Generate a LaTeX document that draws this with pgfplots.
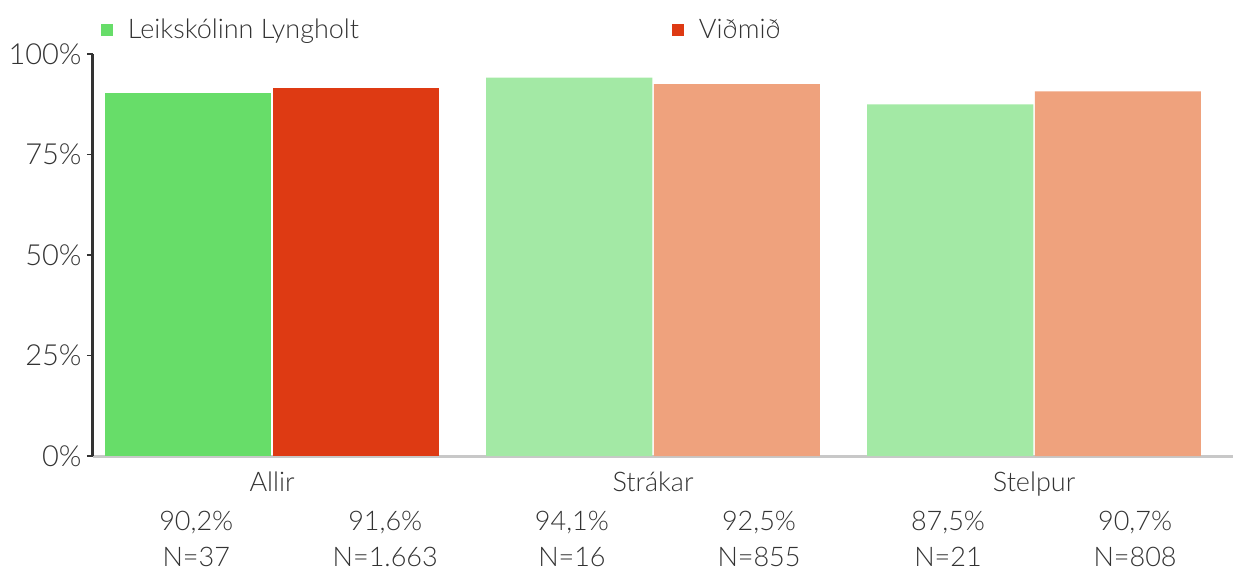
\documentclass[border=0pt]{standalone}
\usepackage{pgfplots}
\pgfplotsset{compat=1.18}
\usepackage{fontspec}
\setmainfont{Lato Light}
\definecolor{dkgreen}{HTML}{67DD69}
\definecolor{dkred}{HTML}{DE3A13}
\definecolor{ltgreen}{HTML}{A3E9A5}
\definecolor{salmon}{HTML}{EFA27D}
\definecolor{txt}{HTML}{333333}
\definecolor{ydark}{HTML}{333333}
\definecolor{xgrey}{HTML}{C8C8C8}
\newcommand{\myfont}{\fontsize{13.5}{16}\selectfont}
\newcommand{\yfont}{\fontsize{14.5}{17}\selectfont}
\begin{document}
\begin{tikzpicture}[font=\myfont]
\begin{axis}[
  at={(0,0)}, anchor=south west,
  scale only axis, width=570pt, height=201pt,
  xmin=-0.47, xmax=2.522, ymin=0, ymax=100,
  axis x line*=bottom, axis y line*=left,
  x axis line style={draw=xgrey, line width=1.5pt, -},
  y axis line style={draw=ydark, line width=1.5pt, -},
  xtick={0,1,2}, xticklabels={Allir, Strákar, Stelpur},
  xtick style={draw=none},
  xticklabel style={anchor=base, yshift=-14.5pt, inner sep=0pt, font=\myfont},
  ytick={0,25,50,75,100}, yticklabels={0\%,25\%,50\%,75\%,100\%},
  ytick style={draw=ydark, line width=0.8pt},
  tick align=outside, major tick length=3pt,
  yticklabel style={inner sep=0pt, xshift=-2.5pt, font=\yfont},
  tick label style={text=txt},
  clip=false,
  legend columns=2,
  legend cell align=left,
  legend style={at={(axis description cs:0,1)}, anchor=west, xshift=4pt, yshift=12pt,
    draw=none, fill=none, inner sep=0pt, outer sep=0pt, font=\myfont,
    nodes={inner sep=0pt, text=txt},
    /tikz/every odd column/.append style={column sep=7.5pt},
    /tikz/every even column/.append style={column sep=156pt}},
  legend image code/.code={\fill[#1] (0pt,-3pt) rectangle (6pt,3pt);},
]
\addplot[ybar, bar shift=0pt, bar width=0.436, fill=dkgreen, draw=none] coordinates {(-0.22,90.2)};
\addlegendentry{\makebox[116pt][l]{Leikskólinn Lyngholt}}
\addplot[ybar, bar shift=0pt, bar width=0.436, fill=dkred, draw=none] coordinates {(0.22,91.6)};
\addlegendentry{Viðmið}
\addplot[ybar, bar shift=0pt, bar width=0.436, fill=ltgreen, draw=none, forget plot] coordinates {(0.78,94.1) (1.78,87.5)};
\addplot[ybar, bar shift=0pt, bar width=0.436, fill=salmon, draw=none, forget plot] coordinates {(1.22,92.5) (2.22,90.7)};
\begin{scope}[every node/.style={anchor=base, text=txt, font=\myfont, inner sep=0pt}]
\node at ([yshift=-37pt]axis cs:-0.199,0) {90,2\%};
\node at ([yshift=-37pt]axis cs:0.297,0) {91,6\%};
\node at ([yshift=-37pt]axis cs:0.787,0) {94,1\%};
\node at ([yshift=-37pt]axis cs:1.278,0) {92,5\%};
\node at ([yshift=-37pt]axis cs:1.774,0) {87,5\%};
\node at ([yshift=-37pt]axis cs:2.265,0) {90,7\%};
\node at ([yshift=-55pt]axis cs:-0.199,0) {N=37};
\node at ([yshift=-55pt]axis cs:0.297,0) {N=1.663};
\node at ([yshift=-55pt]axis cs:0.787,0) {N=16};
\node at ([yshift=-55pt]axis cs:1.278,0) {N=855};
\node at ([yshift=-55pt]axis cs:1.774,0) {N=21};
\node at ([yshift=-55pt]axis cs:2.265,0) {N=808};
\end{scope}
\end{axis}
\pgfresetboundingbox
\path[use as bounding box] (-46.5pt,-56.5pt) rectangle (570pt,228pt);
\end{tikzpicture}
\end{document}
